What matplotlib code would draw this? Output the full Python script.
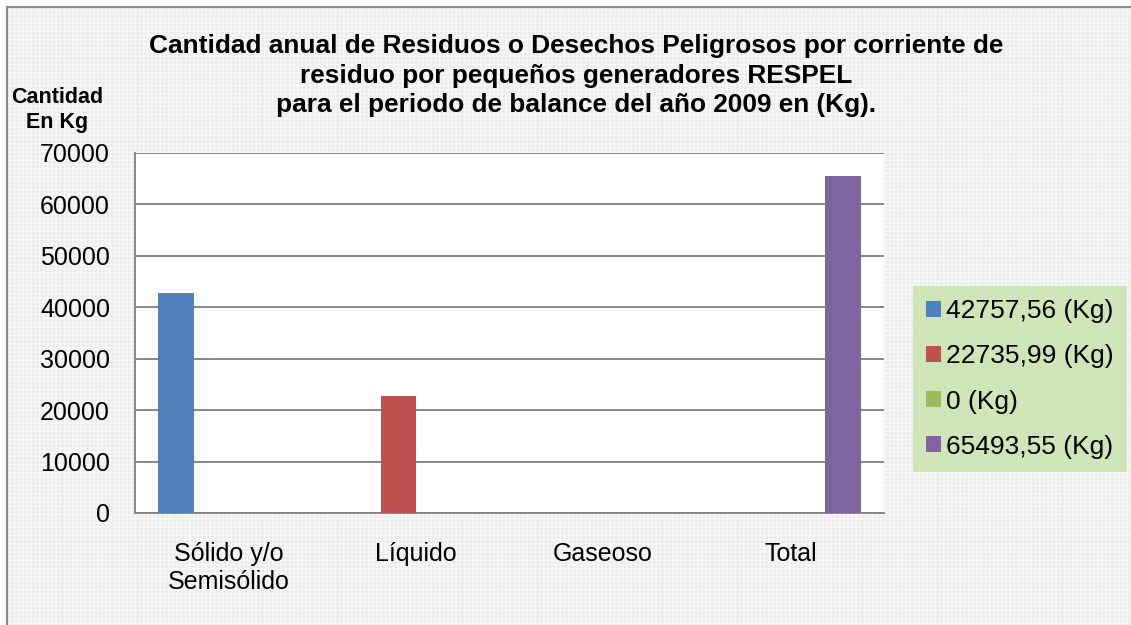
import numpy as np
import matplotlib
matplotlib.use("Agg")
import matplotlib.pyplot as plt
from matplotlib.patches import Rectangle

plt.rcParams["font.family"] = ["Liberation Sans", "DejaVu Sans"]

# data
categories = ["Sólido y/o\nSemisólido", "Líquido", "Gaseoso", "Total"]
series_labels = ["42757,56 (Kg)", "22735,99 (Kg)", "0 (Kg)", "65493,55 (Kg)"]
values = [42757.56, 22735.99, 0, 65493.55]
colors = ["#4f81bd", "#c0504d", "#9bbb59", "#8064a2"]

fig = plt.figure(figsize=(11.31, 6.25), dpi=100)
fig.patch.set_facecolor("white")

# chart area background (light gray with fine grid texture)
W, H = 1131, 625
bg = Rectangle((7 / W, -0.01), 1.02, (618 / H) + 0.01, transform=fig.transFigure,
               facecolor="#ebebeb", edgecolor="#8a8a8a", linewidth=1.5, zorder=-2)
fig.patches.append(bg)
tex = Rectangle((8 / W, -0.01), 1.02, (616 / H) + 0.01, transform=fig.transFigure,
                facecolor="none", edgecolor="#f7f7f7", linewidth=0, hatch="++++",
                zorder=-1)
fig.patches.append(tex)

ax = fig.add_axes([135 / W, 1 - 513 / H, (884 - 135) / W, (513 - 153) / H])
ax.set_facecolor("white")

n = len(series_labels)
w = 0.1875
x = np.arange(len(categories))
for i in range(n):
    offset = (i - (n - 1) / 2) * w
    ax.bar(x[i] + offset, values[i], width=w, color=colors[i],
           label=series_labels[i], zorder=3)

ax.set_xlim(-0.5, 3.5)
ax.set_ylim(0, 70000)
ax.set_yticks(np.arange(0, 70001, 10000))
ax.yaxis.grid(True, color="#868686", linewidth=1.4, zorder=1)
ax.set_axisbelow(True)

for s in ["top", "right"]:
    ax.spines[s].set_visible(False)
for s in ["left", "bottom"]:
    ax.spines[s].set_color("#868686")
    ax.spines[s].set_linewidth(1.4)

ax.set_xticks(x)
ax.set_xticklabels(categories, fontsize=18, linespacing=1.2)
ax.tick_params(axis="x", length=0, pad=21)
ax.tick_params(axis="y", length=0, pad=18, labelsize=18)

fig.text(576 / W, 1 - 75.5 / H,
         "Cantidad anual de Residuos o Desechos Peligrosos por corriente de\n"
         "residuo por pequeños generadores RESPEL\n"
         "para el periodo de balance del año 2009 en (Kg).",
         ha="center", va="center", fontsize=18.9, fontweight="bold",
         linespacing=1.27, multialignment="center")

fig.text(57 / W, 1 - 110 / H, "Cantidad\nEn Kg", ha="center", va="center",
         fontsize=15.5, fontweight="bold", linespacing=1.2)

leg = fig.legend(loc="center left", bbox_to_anchor=(913 / W, 1 - 379 / H),
                 fontsize=19, frameon=True, fancybox=False,
                 handlelength=0.55, handleheight=0.55, handletextpad=0.2,
                 labelspacing=0.8, borderpad=0.5, borderaxespad=0)
leg.get_frame().set_facecolor("#c8e2a9")
leg.get_frame().set_edgecolor("#c8e2a9")
leg.get_frame().set_linewidth(0)

fig.savefig("out.png", dpi=100)
plt.close()
